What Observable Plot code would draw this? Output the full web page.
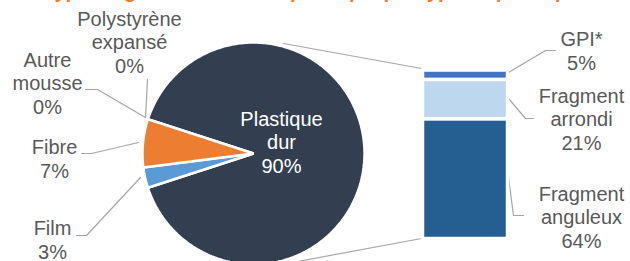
<!DOCTYPE html>
<html>
<head>
<meta charset="utf-8">
<script src="https://cdn.jsdelivr.net/npm/d3@7"></script>
<script src="https://cdn.jsdelivr.net/npm/@observablehq/plot@0.6"></script>
<style>
  html, body { margin: 0; padding: 0; background: #fff; overflow: hidden; }
  #wrap { position: relative; width: 630px; height: 261px; }
  #title { position: absolute; left: 0; width: 630px; top: -20px; text-align: center;
    font: italic bold 20px "Liberation Sans", Arial, sans-serif; color: #ed7d31; white-space: nowrap; }
  #chart { position: absolute; left: 0; top: 0; }
</style>
</head>
<body>
<div id="wrap"><div id="chart"></div><div id="title">Type de grands débris de plastique par type de plastique</div></div>
<script>
// ---- data ----
const categories = ["Plastique dur", "Film", "Fibre", "Autre mousse", "Polystyrène expansé"];
const categoryLabels = ["Plastique\ndur", "Film", "Fibre", "Autre\nmousse", "Polystyrène\nexpansé"];
const shares = [90, 3, 7, 0, 0];
const categoryColors = ["#333f50", "#5b9bd5", "#ed7d31", "#a5a5a5", "#ffc000"];

const subCategories = ["Fragment anguleux", "Fragment arrondi", "GPI*"];
const subLabels = ["Fragment\nanguleux", "Fragment\narrondi", "GPI*"];
const subShares = [64, 21, 5];
const subColors = ["#255e91", "#bdd7ee", "#4472c4"];

// ---- layout (chart units = pixels of the reference layout) ----
const W = 630, H = 261;
const pie = {cx: 253, cy: 153, r: 111, start: -72};
const bar = {x0: 422.5, x1: 507.5, base: 238.5, perUnit: 1.872};
const gray = "#a6a6a6", textColor = "#595959";
const FS = 20;

// pie slices
const arcs = d3.pie().sort(null)
  .startAngle(pie.start * Math.PI / 180)
  .endAngle(pie.start * Math.PI / 180 + 2 * Math.PI)(shares);
const slicePolys = arcs.map((a, i) => {
  const pts = [{x: pie.cx, y: pie.cy}];
  const n = Math.max(2, Math.ceil((a.endAngle - a.startAngle) / (Math.PI / 180)));
  for (let k = 0; k <= n; k++) {
    const t = a.startAngle + (a.endAngle - a.startAngle) * k / n;
    pts.push({x: pie.cx + pie.r * Math.sin(t), y: pie.cy - pie.r * Math.cos(t)});
  }
  return {name: categories[i], value: shares[i], color: categoryColors[i], pts};
}).filter(s => s.value > 0);

// bar segments
let cum = 0;
const segs = subShares.map((v, i) => {
  const s = {name: subCategories[i], value: v, color: subColors[i],
    y2: bar.base - cum * bar.perUnit, y1: bar.base - (cum + v) * bar.perUnit};
  cum += v;
  return s;
});

// label anchors (center x, baseline of last line)
const pieLabelPos = [
  {x: 281, y: 172, fill: "white"},
  {x: 52, y: 258},
  {x: 54, y: 177},
  {x: 47, y: 113},
  {x: 129, y: 72}
];
const subLabelPos = [
  {x: 581, y: 247},
  {x: 581, y: 149},
  {x: 581, y: 69}
];
const labels = [
  ...categories.map((c, i) => ({text: categoryLabels[i] + "\n" + shares[i] + "%", ...pieLabelPos[i]})),
  ...subCategories.map((c, i) => ({text: subLabels[i] + "\n" + subShares[i] + "%", ...subLabelPos[i]}))
];

// leader lines
const leaders = [
  [[283, 43], [421, 68]],
  [[297, 261], [421, 238]],
  [[147, 79], [145, 117]],
  [[85, 89], [97, 89], [145, 117]],
  [[81, 153], [91, 153], [138, 142]],
  [[76, 235], [86, 235], [140, 177]],
  [[508, 72], [545, 50], [555, 50]],
  [[508, 98], [525, 118], [533, 118]],
  [[508, 177], [513, 215], [523, 215]]
].flatMap((l, j) => l.map(([x, y]) => ({x, y, j})));

const chart = Plot.plot({
  width: W, height: H,
  margin: 0,
  x: {domain: [0, W], range: [0, W], axis: null},
  y: {domain: [0, H], range: [0, H], axis: null},
  color: {type: "identity"},
  style: {background: "white", fontFamily: "'Liberation Sans', Arial, sans-serif"},
  marks: [
    Plot.line(leaders, {x: "x", y: "y", z: "j", stroke: gray, strokeWidth: 1.2}),
    ...slicePolys.map(s => Plot.line(s.pts, {x: "x", y: "y", fill: s.color, stroke: "white", strokeWidth: 2.5, strokeLinejoin: "miter", curve: "linear-closed"})),
    Plot.rect(segs, {x1: () => bar.x0, x2: () => bar.x1, y1: "y1", y2: "y2", fill: "color", stroke: "white", strokeWidth: 3.5}),
    Plot.text(labels, {x: "x", y: "y", text: "text", fill: d => d.fill || textColor, fontSize: FS, lineHeight: 1.16, lineAnchor: "bottom", textAnchor: "middle"})
  ]
});
document.getElementById("chart").appendChild(chart);
</script>
</body>
</html>
